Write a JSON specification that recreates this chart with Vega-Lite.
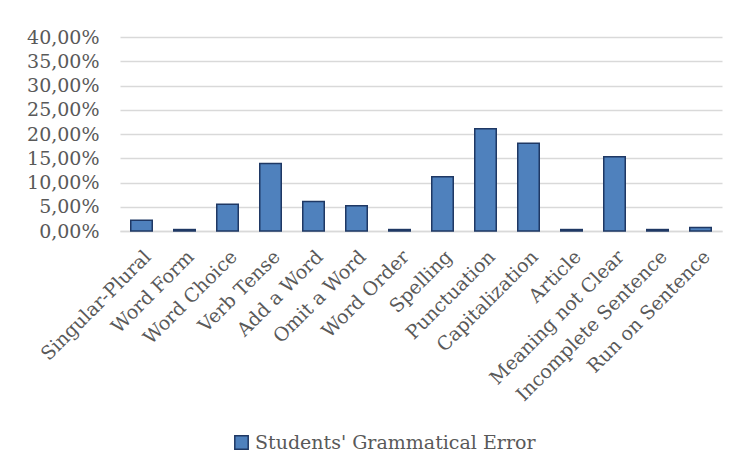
{
  "$schema": "https://vega.github.io/schema/vega-lite/v6.json",
  "width": 602,
  "height": 194,
  "padding": {"left": 26, "top": 28, "right": 10, "bottom": 5},
  "background": "white",
  "data": {
    "values": [
      {"category": "Singular-Plural", "value": 0.022, "series": "Students' Grammatical Error"},
      {"category": "Word Form", "value": 0.003, "series": "Students' Grammatical Error"},
      {"category": "Word Choice", "value": 0.055, "series": "Students' Grammatical Error"},
      {"category": "Verb Tense", "value": 0.139, "series": "Students' Grammatical Error"},
      {"category": "Add a Word", "value": 0.061, "series": "Students' Grammatical Error"},
      {"category": "Omit a Word", "value": 0.052, "series": "Students' Grammatical Error"},
      {"category": "Word Order", "value": 0.003, "series": "Students' Grammatical Error"},
      {"category": "Spelling", "value": 0.112, "series": "Students' Grammatical Error"},
      {"category": "Punctuation", "value": 0.211, "series": "Students' Grammatical Error"},
      {"category": "Capitalization", "value": 0.181, "series": "Students' Grammatical Error"},
      {"category": "Article", "value": 0.003, "series": "Students' Grammatical Error"},
      {"category": "Meaning not Clear", "value": 0.153, "series": "Students' Grammatical Error"},
      {"category": "Incomplete Sentence", "value": 0.003, "series": "Students' Grammatical Error"},
      {"category": "Run on Sentence", "value": 0.007, "series": "Students' Grammatical Error"}
    ]
  },
  "mark": {"type": "bar", "stroke": "#1F3864", "strokeWidth": 1.5},
  "encoding": {
    "x": {
      "field": "category",
      "type": "nominal",
      "sort": null,
      "title": null,
      "scale": {"paddingInner": 0.5, "paddingOuter": 0.25},
      "axis": {
        "labelAngle": -45,
        "labelAlign": "right",
        "labelBaseline": "top",
        "labelPadding": 16,
        "labelLimit": 0,
        "ticks": false,
        "domainColor": "#D9D9D9",
        "domainWidth": 1.5,
        "labelFont": "DejaVu Serif",
        "labelFontSize": 19,
        "labelColor": "#595959"
      }
    },
    "y": {
      "field": "value",
      "type": "quantitative",
      "title": null,
      "scale": {"domain": [0, 0.4], "nice": false},
      "axis": {
        "values": [0, 0.05, 0.1, 0.15, 0.2, 0.25, 0.3, 0.35, 0.4],
        "labelExpr": "replace(format(datum.value, '.2%'), '.', ',')",
        "domain": false,
        "ticks": false,
        "labelPadding": 21,
        "gridColor": "#D9D9D9",
        "gridWidth": 1.5,
        "labelFont": "DejaVu Serif",
        "labelFontSize": 19,
        "labelColor": "#595959"
      }
    },
    "color": {
      "field": "series",
      "type": "nominal",
      "scale": {"range": ["#4F81BD"]},
      "legend": {
        "title": null,
        "orient": "none",
        "legendX": 112,
        "legendY": 396,
        "symbolType": "square",
        "symbolSize": 180,
        "symbolStrokeColor": "#1F3864",
        "symbolStrokeWidth": 1.5,
        "labelFont": "DejaVu Serif",
        "labelFontSize": 19,
        "labelColor": "#595959",
        "labelLimit": 0,
        "labelOffset": 4
      }
    }
  },
  "config": {
    "view": {"stroke": null}
  }
}
